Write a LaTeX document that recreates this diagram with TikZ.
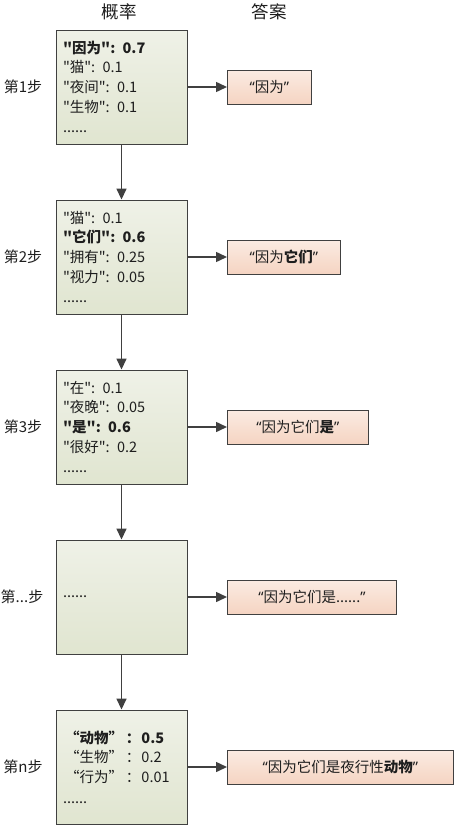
\documentclass[tikz,border=0pt]{standalone}
\usepackage{fontspec}
\newfontfamily\zh{Noto Sans CJK SC}
\newfontfamily\latinq{Noto Sans}
\usetikzlibrary{arrows.meta}
\definecolor{txt}{HTML}{1E1E1E}
\definecolor{edge}{HTML}{404040}
\definecolor{gtop}{HTML}{EFF1E7}
\definecolor{gbot}{HTML}{E0E5D0}
\definecolor{otop}{HTML}{FBEBE2}
\definecolor{obot}{HTML}{F5D4C2}
\newcommand{\myLq}{{\latinq “}}
\newcommand{\myRq}{{\latinq ”}}
\begin{document}
\begin{tikzpicture}[x=1pt,y=-1pt,
  font=\zh\fontsize{14.5}{19.6}\selectfont, text=txt,
  probbox/.style={draw=edge, line width=0.9pt, top color=gtop, bottom color=gbot,
    minimum width=131pt, minimum height=114pt, text width=117pt, inner xsep=7pt, align=left},
  ansbox/.style={draw=edge, line width=0.9pt, top color=otop, bottom color=obot,
    minimum height=34pt, anchor=west, inner xsep=15pt, align=left},
  steplabel/.style={anchor=center, font=\zh\fontsize{15}{18}\selectfont},
  header/.style={font=\zh\fontsize{17.5}{20}\selectfont},
  conn/.style={draw=edge, line width=1.5pt, -{Triangle[length=11pt,width=10pt]}}
]
\useasboundingbox (0,0) rectangle (454,825);

\node[header] (h1) at (119,12) {概率};
\node[header] (h2) at (269,12) {答案};

\node[probbox] (b1) at (121.5,87) {\textbf{"因为": 0.7}\\"猫": 0.1\\"夜间": 0.1\\"生物": 0.1\\[1pt]......};
\node[probbox] (b2) at (121.5,257) {"猫": 0.1\\\textbf{"它们": 0.6}\\"拥有": 0.25\\"视力": 0.05\\[1pt]......};
\node[probbox] (b3) at (121.5,427) {"在": 0.1\\"夜晚": 0.05\\\textbf{"是": 0.6}\\"很好": 0.2\\[1pt]......};
\node[probbox] (b4) at (121.5,597) {......};
\node[probbox] (b5) at (121.5,767) {\hspace*{2pt}\textbf{“动物”\hspace{3pt}：\hspace{1pt}0.5}\\\hspace*{2pt}“生物”\hspace{3pt}：\hspace{1pt}0.2\\\hspace*{2pt}“行为”\hspace{3pt}：\hspace{1pt}0.01\\[1pt]......};

\node[steplabel] (s1) at (23,87) {第1步};
\node[steplabel] (s2) at (23,257) {第2步};
\node[steplabel] (s3) at (23,427) {第3步};
\node[steplabel] (s4) at (22,597) {第...步};
\node[steplabel] (s5) at (23,767) {第n步};

\node[ansbox, minimum width=84pt] (a1) at (227,87) {\myLq 因为\myRq};
\node[ansbox, minimum width=113pt] (a2) at (227,257) {\myLq 因为\textbf{它们}\myRq};
\node[ansbox, minimum width=141pt] (a3) at (227,427) {\myLq 因为它们\textbf{是}\myRq};
\node[ansbox, minimum width=169pt] (a4) at (227,597) {\myLq 因为它们是......\myRq};
\node[ansbox, minimum width=226pt] (a5) at (227,767) {\myLq 因为它们是夜行性\textbf{动物}\myRq};

\draw[conn] (b1) -- (b2);
\draw[conn] (b2) -- (b3);
\draw[conn] (b3) -- (b4);
\draw[conn] (b4) -- (b5);
\draw[conn] (b1) -- (a1);
\draw[conn] (b2) -- (a2);
\draw[conn] (b3) -- (a3);
\draw[conn] (b4) -- (a4);
\draw[conn] (b5) -- (a5);
\end{tikzpicture}
\end{document}
